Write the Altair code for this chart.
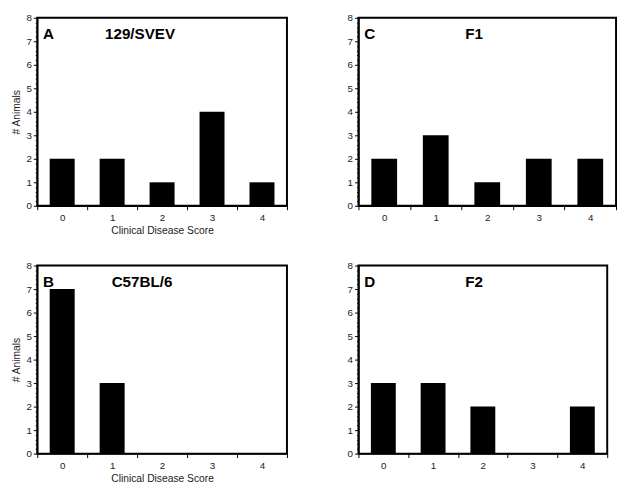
import altair as alt
import pandas as pd

scores = ["0", "1", "2", "3", "4"]
counts_a = [2, 2, 1, 4, 1]
counts_b = [7, 3, 0, 0, 0]
counts_c = [2, 3, 1, 2, 2]
counts_d = [3, 3, 2, 0, 2]
y_tick_values = [round(i * 0.2, 1) for i in range(41)]

FONT = "Liberation Sans"


def panel(counts, letter, strain, strain_x, show_titles, w):
    df = pd.DataFrame({"score": scores, "n": counts})
    xaxis = dict(tickBand="extent", labelAngle=0, labelPadding=3, tickSize=4,
                 titlePadding=3, labelFontSize=10, titleFontSize=10.5)
    yaxis = dict(values=y_tick_values,
                 labelExpr="datum.value % 1 === 0 ? format(datum.value, 'd') : ''",
                 tickSize={"condition": {"test": "datum.value % 1 === 0", "value": 4}, "value": 2},
                 labelOverlap=False, labelFlush=False, grid=False, labelPadding=2,
                 titlePadding=5, labelFontSize=10, titleFontSize=10.5)
    if show_titles:
        xaxis["title"] = "Clinical Disease Score"
        yaxis["title"] = "# Animals"
    else:
        xaxis["title"] = None
        yaxis["title"] = None
    bars = alt.Chart(df).mark_bar(color="black", width=alt.RelativeBandSize(0.5)).encode(
        x=alt.X("score:O", sort=scores,
                scale=alt.Scale(paddingInner=0, paddingOuter=0),
                axis=alt.Axis(**xaxis)),
        y=alt.Y("n:Q", scale=alt.Scale(domain=[0, 8], nice=False, zero=True),
                axis=alt.Axis(**yaxis)),
    )
    lab = alt.Chart(pd.DataFrame({"t": [letter]})).mark_text(
        align="left", baseline="middle", fontWeight="bold", fontSize=15.5, font=FONT,
        color="black").encode(text="t:N", x=alt.value(6), y=alt.value(17))
    st = alt.Chart(pd.DataFrame({"t": [strain]})).mark_text(
        align="center", baseline="middle", fontWeight="bold", fontSize=15.5, font=FONT,
        color="black").encode(text="t:N", x=alt.value(strain_x), y=alt.value(17))
    return alt.layer(bars, lab, st).properties(width=w, height=192)


pa = panel(counts_a, "A", "129/SVEV", 105, True, 255)
pc = panel(counts_c, "C", "F1", 118, False, 263)
pb = panel(counts_b, "B", "C57BL/6", 107, True, 255)
pd_ = panel(counts_d, "D", "F2", 118, False, 254)

row1 = alt.hconcat(pa, pc, spacing=58)
row2 = alt.hconcat(pb, pd_, spacing=58)
chart = alt.vconcat(row1, row2, spacing=23).properties(
    padding={"left": 10, "top": 7, "right": 0, "bottom": 0}
).configure_view(stroke="black", strokeWidth=2).configure_axis(
    domainColor="black", domainWidth=1.5, tickColor="black", tickWidth=1,
    labelFont=FONT, titleFont=FONT, labelColor="#222", titleColor="#222",
    titleFontWeight="normal"
).configure_concat(spacing=0)

chart.save("out.html", embed_options={"renderer": "svg", "actions": False})
